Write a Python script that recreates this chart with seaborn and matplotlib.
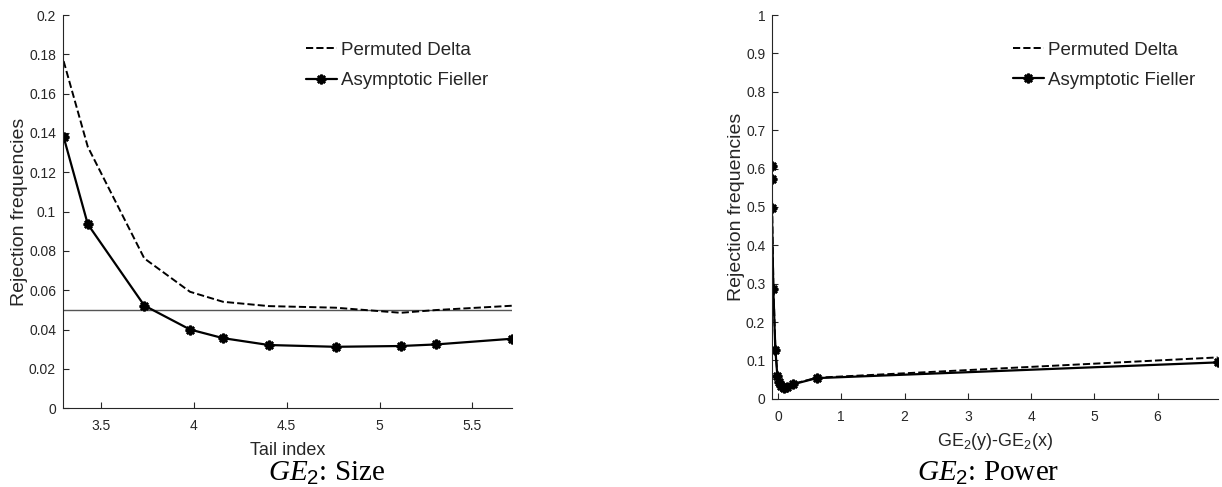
import matplotlib
matplotlib.use("Agg")
import matplotlib.pyplot as plt
import numpy as np
import pandas as pd
import seaborn as sns

# Size panel
tail_index = [3.3, 3.43, 3.734, 3.98, 4.158, 4.405, 4.763, 5.114, 5.303, 5.713]
size_delta = [0.1766, 0.133, 0.0762, 0.0592, 0.0541, 0.0519, 0.0511, 0.0485, 0.0499, 0.0521]
size_fieller = [0.138, 0.0936, 0.0522, 0.0400, 0.0356, 0.0321, 0.0312, 0.0316, 0.0324, 0.0353]

# Power panel
ge_diff = [-0.1, -0.099, -0.097, -0.074, -0.042, -0.01, 0.016, 0.054, 0.095, 0.148, 0.24, 0.61, 6.95]
power_delta = [0.664, 0.63, 0.55, 0.30, 0.135, 0.065, 0.048, 0.036, 0.030, 0.031, 0.039, 0.055, 0.108]
power_fieller = [0.607, 0.574, 0.497, 0.287, 0.128, 0.060, 0.045, 0.034, 0.028, 0.030, 0.038, 0.054, 0.095]

sns.set_style("ticks")
plt.rcParams['font.family'] = ['Liberation Sans', 'DejaVu Sans']
plt.rcParams['mathtext.fontset'] = 'custom'
plt.rcParams['mathtext.rm'] = 'Liberation Sans'
plt.rcParams['mathtext.it'] = 'Liberation Serif:italic'
plt.rcParams['mathtext.default'] = 'regular'
plt.rcParams['xtick.direction'] = 'in'
plt.rcParams['ytick.direction'] = 'in'

txt = '#262626'
asterisk = (8, 2, 0)

fig = plt.figure(figsize=(12.22, 4.87), dpi=100)
ax1 = fig.add_axes([0.0516, 0.162, 0.367, 0.807])
ax2 = fig.add_axes([0.632, 0.181, 0.365, 0.788])

df1 = pd.DataFrame({'x': tail_index, 'delta': size_delta, 'fieller': size_fieller})
df2 = pd.DataFrame({'x': ge_diff, 'delta': power_delta, 'fieller': power_fieller})

for ax, df in [(ax1, df1), (ax2, df2)]:
    sns.lineplot(data=df, x='x', y='delta', ax=ax, color='black', lw=1.4,
                 linestyle='--', estimator=None, sort=False, label='Permuted Delta')
    sns.lineplot(data=df, x='x', y='fieller', ax=ax, color='black', lw=1.6,
                 marker=asterisk, markersize=7, markeredgewidth=1.8,
                 markeredgecolor='black', markerfacecolor='black',
                 estimator=None, sort=False, label='Asymptotic Fieller')
    sns.despine(ax=ax)
    ax.set_ylabel('Rejection frequencies', fontsize=14, color=txt, labelpad=0.8)
    ax.tick_params(labelsize=10, colors=txt, length=4)
    ax.tick_params(axis='x', pad=8)
    ax.tick_params(axis='y', pad=5)
    ax.legend(loc='upper right', frameon=False, fontsize=13.5,
              handlelength=1.65, handletextpad=0.2, labelspacing=0.7,
              bbox_to_anchor=(0.985, 0.975))

ax1.axhline(0.05, color='#555555', lw=1.0, zorder=0)
ax1.set_xlim(3.297, 5.71)
ax1.set_ylim(0, 0.2)
ax1.set_xticks([3.5, 4, 4.5, 5, 5.5])
ax1.set_xticklabels(['3.5', '4', '4.5', '5', '5.5'])
yt1 = np.round(np.arange(0, 0.201, 0.02), 2)
ax1.set_yticks(yt1)
ax1.set_yticklabels(['0', '0.02', '0.04', '0.06', '0.08', '0.1', '0.12', '0.14', '0.16', '0.18', '0.2'])
ax1.set_xlabel('Tail index', fontsize=13, color=txt, labelpad=6)

ax2.set_xlim(-0.09, 6.96)
ax2.set_ylim(0, 1)
ax2.set_xticks(range(0, 7))
yt2 = np.round(np.arange(0, 1.01, 0.1), 1)
ax2.set_yticks(yt2)
ax2.set_yticklabels(['0', '0.1', '0.2', '0.3', '0.4', '0.5', '0.6', '0.7', '0.8', '0.9', '1'])
ax2.set_xlabel('GE$_2$(y)-GE$_2$(x)', fontsize=13, color=txt, labelpad=5)

fig.text(0.267, 0.027, r'$\mathit{GE}_{\mathit{2}}$: Size', ha='center', va='center',
         fontsize=21, family='Liberation Serif', color='black')
fig.text(0.8085, 0.027, r'$\mathit{GE}_{\mathit{2}}$: Power', ha='center', va='center',
         fontsize=21, family='Liberation Serif', color='black')

fig.savefig('out.png', dpi=100)
